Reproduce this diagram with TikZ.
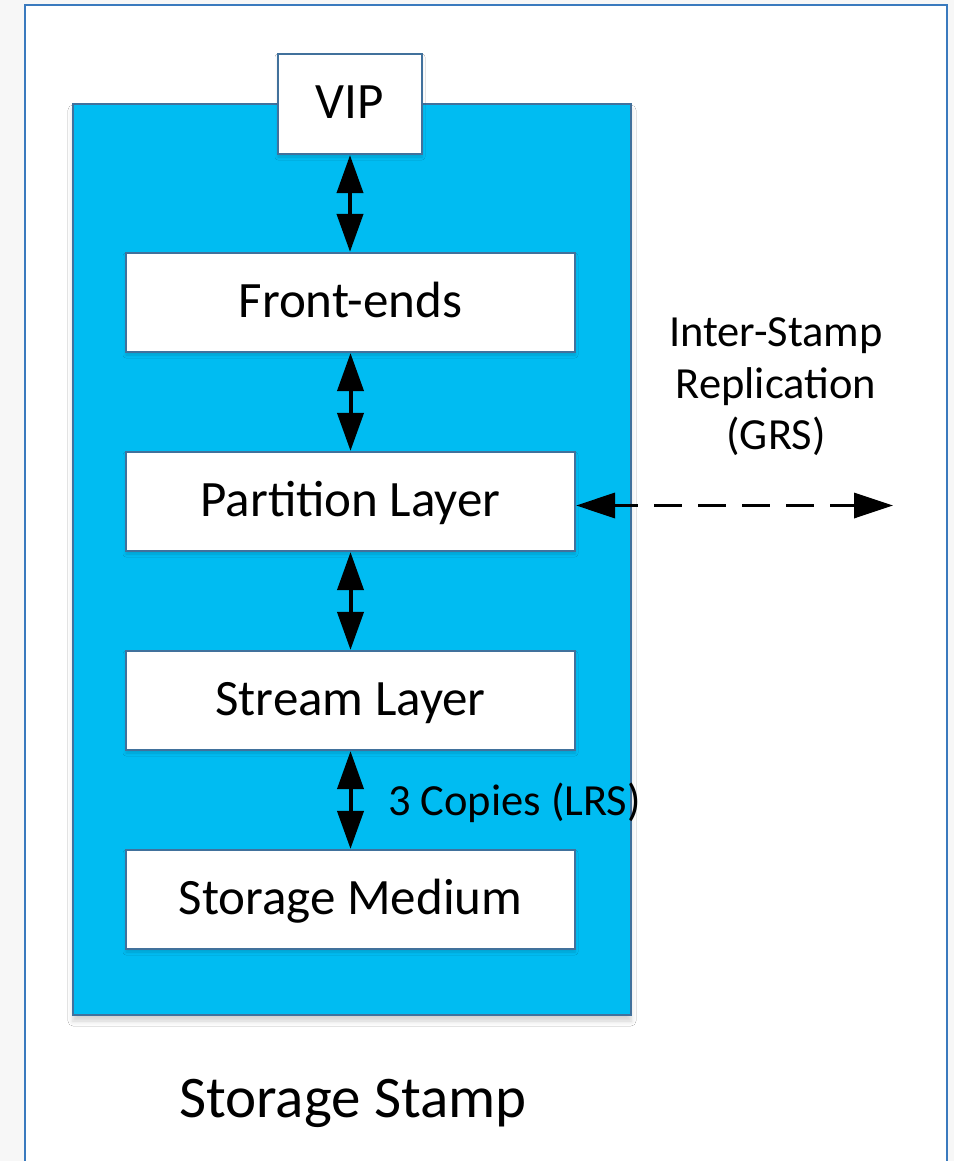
\documentclass[tikz,border=0pt]{standalone}
\usepackage{fontspec}
\setmainfont{Carlito}
\usetikzlibrary{arrows.meta,shadows.blur}

\definecolor{pagegray}{RGB}{247,247,247}
\definecolor{framecol}{RGB}{58,122,190}
\definecolor{stampfill}{RGB}{0,188,242}
\definecolor{edgecol}{RGB}{65,113,156}

\tikzset{
  layerbox/.style={draw=edgecol, line width=2.2bp, fill=white, minimum width=449bp,
    minimum height=99bp, inner sep=0pt, text height=40.8bp, text depth=11.7bp,
    font=\fontsize{51bp}{61bp}\selectfont,
    blur shadow={shadow xshift=0bp, shadow yshift=-3bp, shadow blur radius=3bp,
      shadow opacity=15, shadow blur extra rounding=0bp}},
  linkarrow/.style={line width=4bp, {Triangle[length=38bp,width=26bp]}-{Triangle[length=38bp,width=26bp]}},
  remotearrow/.style={line width=3.5bp, dash pattern=on 28bp off 16bp, dash phase=4bp,
    {Triangle[length=39bp,width=25bp]}-{Triangle[length=39bp,width=25bp]}},
  sidelabel/.style={font=\fontsize{44.5bp}{51.5bp}\selectfont, inner sep=0pt},
}

\begin{document}
\begin{tikzpicture}[x=1bp, y=-1bp]
  \useasboundingbox (0,0) rectangle (954,1161);
  \clip (0,0) rectangle (954,1161);

  % page and outer stamp frame
  \fill[pagegray] (0,0) rectangle (954,1161);
  \fill[white] (25,5) rectangle (947,1170);
  \draw[framecol, line width=2.5bp] (25,1170) -- (25,5) -- (947,5) -- (947,1170);

  % storage stamp body
  \node[draw=edgecol, line width=2.2bp, fill=stampfill, minimum width=558bp, minimum height=911bp,
        inner sep=0pt, blur shadow={shadow xshift=0bp, shadow yshift=-6bp, shadow blur radius=5bp,
        shadow opacity=18, shadow blur extra rounding=0bp}]
        (stamp) at (352,559.5) {};

  % layers
  \node[layerbox, minimum width=144bp, minimum height=100bp] (vip) at (350,104) {VIP};
  \node[layerbox] (fe)  at (350.5,302.5) {Front-ends};
  \node[layerbox] (pl)  at (350.5,501.5) {Partition Layer};
  \node[layerbox] (sl)  at (350.5,700.5) {Stream Layer};
  \node[layerbox] (sm)  at (350.5,899.5) {Storage Medium};

  % vertical links
  \draw[linkarrow] (vip.south) -- (vip.south |- fe.north);
  \draw[linkarrow] (fe.south) -- (pl.north);
  \draw[linkarrow] (pl.south) -- (sl.north);
  \draw[linkarrow] (sl.south) -- (sm.north);

  \node[sidelabel, anchor=base west] (lrs) at (388,815) {3 Copies (LRS)};

  % replication to another stamp
  \coordinate (remote) at (893,505.5);
  \draw[remotearrow] (pl.east |- remote) -- (remote);
  \node[sidelabel, align=center] (grs) at (776,387) {Inter-Stamp\\Replication\\(GRS)};

  \node[font=\fontsize{59bp}{66bp}\selectfont, inner sep=0pt, anchor=base west] (title) at (179,1117) {Storage Stamp};
\end{tikzpicture}
\end{document}
